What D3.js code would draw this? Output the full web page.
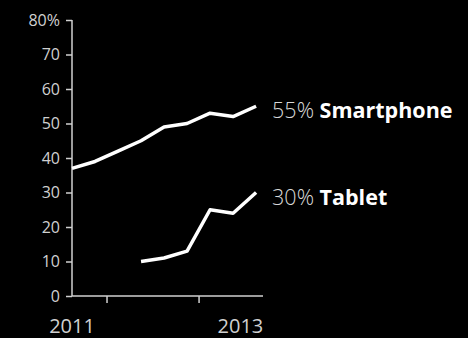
<!DOCTYPE html>
<html>
<head>
<meta charset="utf-8">
<script src="https://cdn.jsdelivr.net/npm/d3@7"></script>
<style>
  html, body { margin: 0; padding: 0; background: #000; }
  svg { display: block; }
</style>
</head>
<body>
<svg id="chart" width="468" height="338"></svg>
<script>
// Quarterly share of users, indexed by quarter (0 = first quarter of 2011)
const quarters = [0, 1, 2, 3, 4, 5, 6, 7, 8];
const smartphone = [37, 39, 42, 45, 49, 50, 53, 52, 55];
const tabletQuarters = [3, 4, 5, 6, 7, 8];
const tablet = [10, 11, 13, 25, 24, 30];

const yTicks = [0, 10, 20, 30, 40, 50, 60, 70, 80];
const xTickMarks = [1.5, 5.5];
const xYearLabels = ["2011", "2013"];
const xYearPos = [0, 7.32];

const seriesNames = ["Smartphone", "Tablet"];

const svg = d3.select("#chart");

const x = d3.scaleLinear().domain([0, 8.3]).range([72, 263]);
const y = d3.scaleLinear().domain([0, 80]).range([296, 20]);

const axisColor = "#d0d0d0";
const font = "'Source Sans Pro', 'Open Sans', 'Noto Sans', sans-serif";

// Y axis
const yAxis = svg.append("g")
  .attr("transform", `translate(${x(0)},0)`)
  .call(d3.axisLeft(y).tickValues(yTicks).tickSize(6).tickPadding(6)
    .tickFormat(d => d === 80 ? "80%" : d));
yAxis.select(".domain").attr("d", `M0,${y(80)}V${y(0)}`);
yAxis.selectAll("line, path").attr("stroke", axisColor).attr("stroke-width", 1.5);
yAxis.selectAll("text").attr("fill", axisColor).style("font-family", font)
  .style("font-size", "16px");

// X axis: baseline with two quarter-boundary ticks
const xAxis = svg.append("g")
  .attr("transform", `translate(0,${y(0)})`)
  .call(d3.axisBottom(x).tickValues(xTickMarks).tickSize(7).tickFormat(""));
xAxis.select(".domain").attr("d", `M${x(0)},0H${x(8.3)}`);
xAxis.selectAll("line, path").attr("stroke", axisColor).attr("stroke-width", 1.5);

svg.append("g").selectAll("text")
  .data(xYearLabels)
  .join("text")
  .attr("x", (d, i) => x(xYearPos[i]))
  .attr("y", 333)
  .attr("text-anchor", "middle")
  .attr("fill", axisColor)
  .style("font-family", font)
  .style("font-size", "20px")
  .text(d => d);

// Lines
const line = d3.line().x(d => x(d[0])).y(d => y(d[1]));
const series = [
  quarters.map((q, i) => [q, smartphone[i]]),
  tabletQuarters.map((q, i) => [q, tablet[i]])
];

svg.append("g").selectAll("path")
  .data(series)
  .join("path")
  .attr("d", line)
  .attr("fill", "none")
  .attr("stroke", "#fff")
  .attr("stroke-width", 3.5)
  .attr("stroke-linejoin", "round")
  .attr("stroke-linecap", "butt");

// End labels
const labels = svg.append("g").selectAll("text")
  .data(series)
  .join("text")
  .attr("x", d => x(d[d.length - 1][0]) + 16)
  .attr("y", d => y(d[d.length - 1][1]) + 12)
  .style("font-family", font)
  .style("font-size", "21.5px");
labels.append("tspan")
  .attr("fill", "#d8d8d8")
  .style("font-weight", 300)
  .text(d => d[d.length - 1][1] + "% ");
labels.append("tspan")
  .attr("fill", "#fff")
  .style("font-weight", 700)
  .text((d, i) => seriesNames[i]);
</script>
</body>
</html>
